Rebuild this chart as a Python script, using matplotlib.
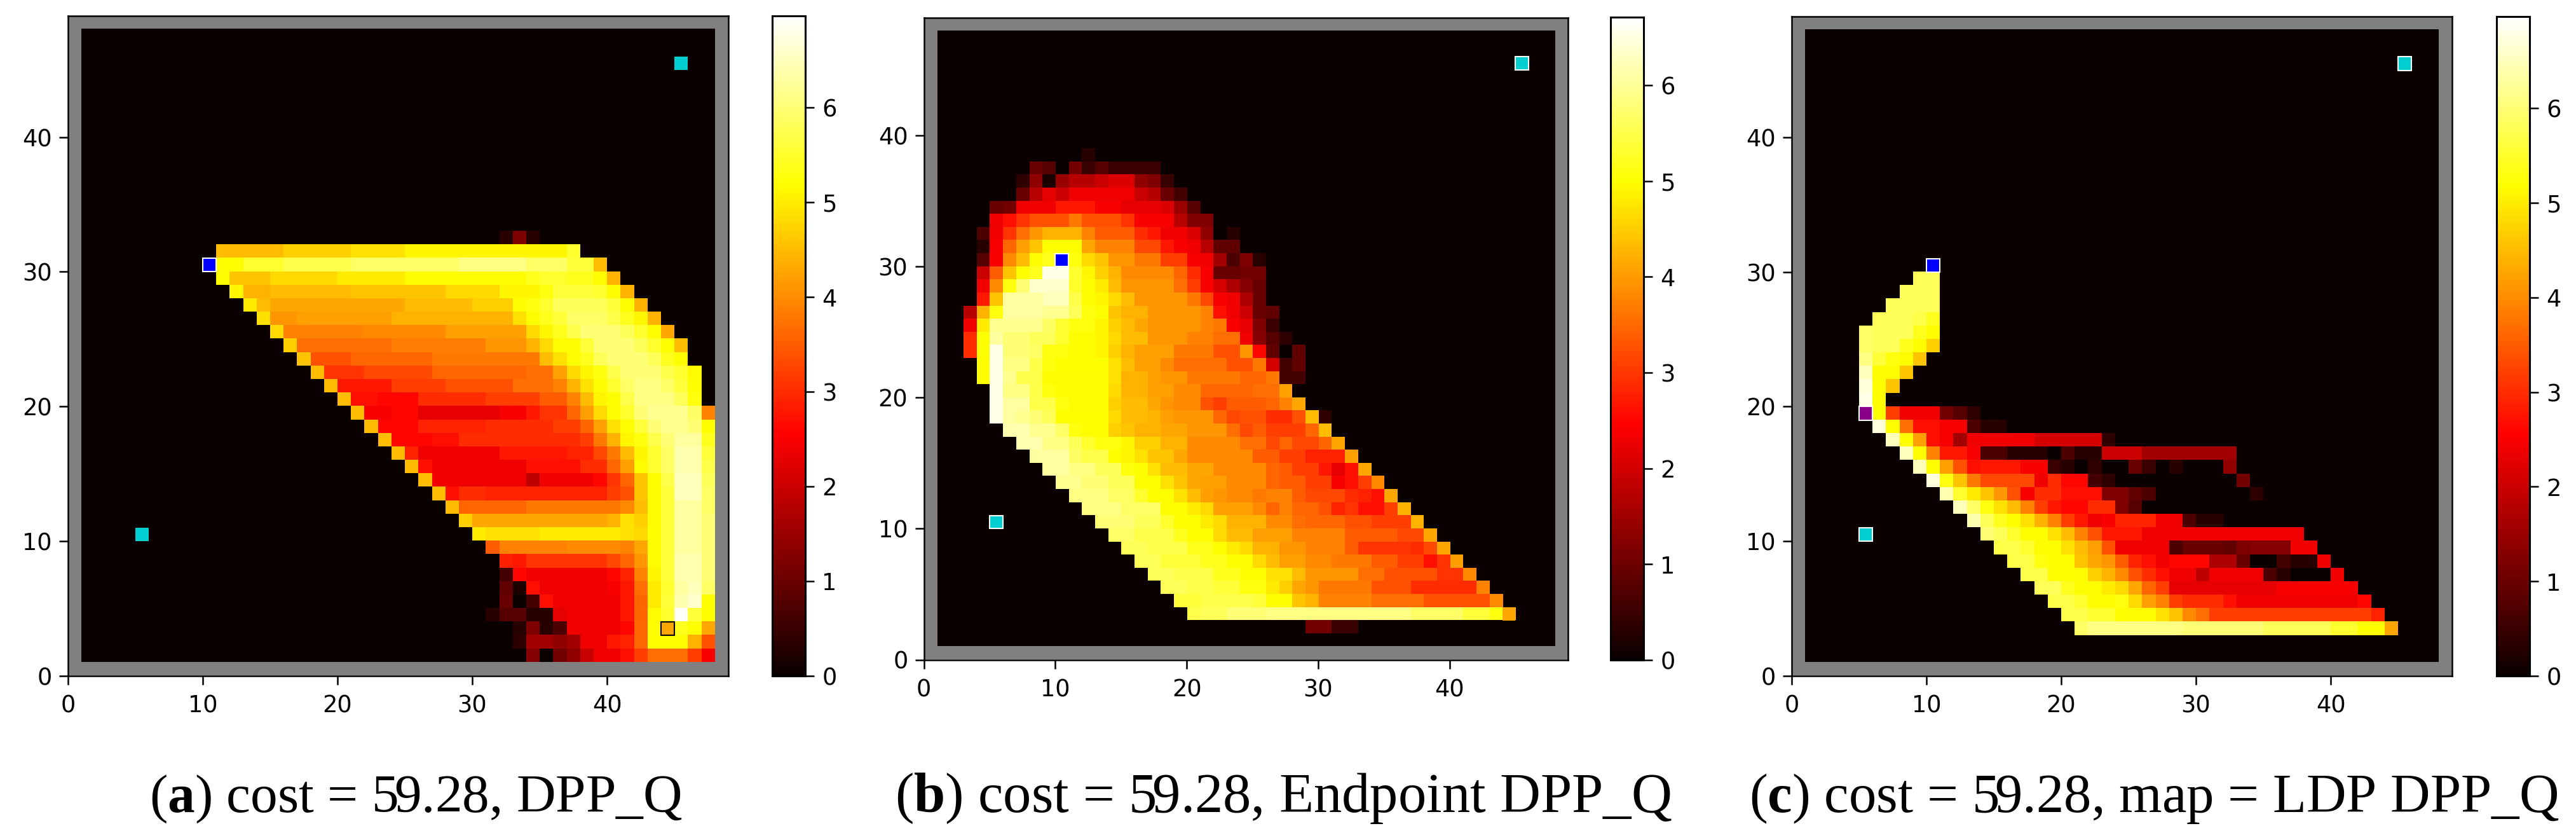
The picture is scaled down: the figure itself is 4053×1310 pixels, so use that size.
import numpy as np
import matplotlib
matplotlib.use("Agg")
import matplotlib.pyplot as plt
from matplotlib.colors import Normalize
from matplotlib.patches import Rectangle

plt.rcParams['mathtext.fontset'] = 'custom'
plt.rcParams['mathtext.bf'] = 'Liberation Serif:bold'
plt.rcParams['mathtext.rm'] = 'Liberation Serif'

W, H = 4053, 1310
GRID = 49

# row -> (first column, [(last column of run, value), ...])
ROWS_A = {
 32: (32, [(32,.3),(33,1.2),(34,.3)]),
 31: (11, [(15,4.5),(20,4.7),(24,4.9),(36,5.1),(37,5.5)]),
 30: (11, [(12,5.2),(15,5.5),(20,5.7),(28,5.9),(33,6.1),(36,5.9),(38,5.6),(39,4.5)]),
 29: (11, [(11,5.2),(14,4.6),(19,4.8),(24,5.0),(33,5.15),(34,5.4),(36,5.5),(38,5.4),(39,5.15),(40,4.4)]),
 28: (12, [(12,5.1),(14,4.4),(20,4.5),(27,4.6),(31,4.8),(34,5.1),(35,5.3),(38,5.6),(39,5.5),(40,5.15),(41,4.4)]),
 27: (13, [(13,5.0),(14,4.5),(24,4.3),(29,4.5),(32,4.7),(33,5.15),(34,5.3),(35,5.5),(39,5.8),(40,5.6),(41,5.2),(42,4.4)]),
 26: (14, [(14,4.9),(16,4.1),(23,4.2),(32,4.4),(33,4.9),(34,5.15),(35,5.4),(36,5.6),(39,5.9),(40,5.7),(41,5.4),(42,5.1),(43,4.4)]),
 25: (15, [(15,4.8),(21,3.9),(27,4.0),(33,4.2),(34,4.8),(35,5.1),(36,5.4),(37,5.7),(40,6.0),(41,5.8),(42,5.5),(43,5.2),(44,4.3)]),
 24: (16, [(16,4.7),(23,3.7),(30,3.85),(33,4.1),(34,4.4),(35,4.8),(37,5.15),(38,5.6),(41,6.0),(42,5.8),(43,5.5),(44,5.2),(45,4.5)]),
 23: (17, [(17,4.6),(20,3.4),(26,3.6),(34,3.8),(35,4.5),(36,4.9),(37,5.15),(38,5.4),(39,5.8),(42,6.0),(43,5.8),(44,5.4),(45,5.2)]),
 22: (18, [(18,4.5),(21,3.1),(26,3.3),(33,3.6),(35,3.7),(36,4.2),(37,4.8),(38,5.1),(39,5.3),(40,5.7),(43,6.0),(44,5.7),(45,5.5),(46,5.15)]),
 21: (19, [(19,4.5),(23,2.8),(27,3.2),(32,3.4),(35,3.7),(36,3.9),(37,4.4),(38,4.9),(39,5.2),(40,5.5),(41,5.9),(43,6.1),(44,5.9),(45,5.6),(46,5.2)]),
 20: (20, [(20,4.5),(22,2.7),(25,2.6),(30,3.0),(34,3.2),(36,3.5),(37,3.9),(38,4.5),(39,5.1),(40,5.2),(41,5.7),(44,6.1),(45,5.8),(46,5.3)]),
 19: (21, [(21,4.5),(23,2.5),(25,2.6),(31,2.3),(33,2.5),(34,2.8),(36,3.1),(37,3.6),(38,4.2),(39,4.8),(40,5.15),(41,5.5),(42,6.0),(45,6.2),(46,5.9),(47,3.9)]),
 18: (22, [(22,4.5),(25,2.6),(30,2.9),(35,3.0),(37,3.2),(38,3.6),(39,4.2),(40,4.9),(41,5.2),(42,5.6),(43,6.0),(45,6.2),(46,6.0),(47,5.2)]),
 17: (23, [(23,4.5),(26,2.6),(28,2.7),(37,3.0),(38,3.2),(39,3.8),(40,4.4),(41,5.1),(42,5.3),(43,5.7),(44,6.0),(46,6.3),(47,5.4)]),
 16: (24, [(24,4.5),(25,2.9),(31,2.4),(36,2.8),(38,2.9),(39,3.3),(40,3.8),(41,4.5),(42,5.1),(43,5.5),(44,5.9),(46,6.4),(47,5.6)]),
 15: (25, [(25,4.5),(26,2.7),(33,2.4),(37,2.7),(39,3.0),(40,3.6),(41,4.2),(42,5.15),(43,5.5),(44,5.9),(46,6.4),(47,5.7)]),
 14: (26, [(26,4.5),(33,2.4),(34,1.9),(38,2.4),(39,2.6),(40,3.1),(41,3.6),(42,4.6),(43,5.2),(44,5.7),(46,6.5),(47,5.8)]),
 13: (27, [(27,4.5),(28,2.7),(30,3.0),(39,2.9),(40,3.2),(41,3.4),(42,4.6),(43,5.15),(44,5.6),(46,6.5),(47,5.9)]),
 12: (28, [(28,4.5),(33,3.6),(40,3.8),(41,4.0),(42,4.5),(43,5.15),(44,5.6),(46,6.3),(47,5.9)]),
 11: (29, [(29,4.7),(39,4.3),(40,4.4),(41,4.9),(42,4.7),(43,5.15),(44,5.6),(46,6.3),(47,6.0)]),
 10: (30, [(30,5.0),(34,4.9),(40,5.0),(41,4.9),(42,4.8),(43,5.2),(44,5.6),(46,6.3),(47,6.0)]),
 9:  (31, [(31,3.5),(36,3.9),(40,4.0),(41,3.9),(42,4.3),(43,5.15),(44,5.6),(46,6.3),(47,6.0)]),
 8:  (32, [(32,2.9),(33,2.8),(39,3.1),(40,3.3),(41,3.6),(42,4.1),(43,5.15),(44,5.6),(46,6.4),(47,6.0)]),
 7:  (32, [(32,.6),(33,2.6),(39,2.4),(40,2.6),(41,2.9),(42,3.9),(43,5.1),(44,5.6),(46,6.4),(47,6.0)]),
 6:  (32, [(32,.9),(33,.2),(34,2.7),(39,2.4),(40,2.5),(41,2.8),(42,3.7),(43,5.0),(44,5.5),(45,6.3),(46,6.5),(47,5.9)]),
 5:  (32, [(32,1.0),(33,0),(34,.6),(35,2.7),(40,2.4),(41,2.8),(42,3.6),(43,5.0),(44,5.6),(45,6.4),(46,6.6),(47,5.2)]),
 4:  (31, [(31,.3),(33,.8),(35,.3),(36,2.3),(40,2.4),(41,2.8),(42,3.6),(43,5.15),(44,5.5),(45,6.9),(46,5.6),(47,5.2)]),
 3:  (33, [(33,.3),(34,1.2),(35,.3),(36,.7),(40,2.4),(41,2.6),(42,3.6),(44,5.2),(45,5.4),(46,5.2),(47,4.3)]),
 2:  (33, [(33,.4),(35,1.6),(36,1.4),(37,1.6),(39,2.4),(40,2.8),(41,2.9),(42,3.6),(45,5.2),(46,4.4),(47,3.4)]),
 1:  (34, [(34,1.3),(35,0),(36,1.1),(37,1.4),(38,2.0),(40,2.4),(41,2.7),(42,3.2),(45,3.7),(46,3.2),(47,2.5)]),
}

ROWS_B = {
 38: (12, [(12,.3)]),
 37: (8, [(8,1.0),(9,.8),(10,0),(11,1.1),(12,.5),(13,.8),(17,.5)]),
 36: (7, [(7,.4),(8,1.4),(9,.2),(10,1.5),(12,1.8),(13,2.0),(15,2.2),(16,1.4),(17,1.2),(18,.5)]),
 35: (7, [(7,1.0),(8,1.8),(9,2.3),(10,2.0),(15,2.4),(16,2.0),(17,1.8),(18,1.0),(19,.6)]),
 34: (5, [(5,1.0),(6,1.1),(9,2.4),(12,2.8),(14,2.5),(17,2.3),(18,2.2),(19,1.5),(20,.8)]),
 33: (5, [(5,2.4),(6,2.7),(7,3.1),(10,3.4),(11,3.8),(14,3.4),(15,3.1),(18,2.5),(19,1.8),(21,1.2)]),
 32: (4, [(4,.7),(5,2.4),(6,3.1),(7,3.7),(8,4.1),(11,4.4),(12,3.9),(15,3.5),(16,3.0),(17,2.8),(19,2.4),(20,2.2),(21,1.4),(22,0),(23,.3)]),
 31: (4, [(4,.3),(5,2.5),(6,3.6),(7,4.2),(8,4.6),(11,5.2),(12,4.3),(15,3.9),(17,3.3),(18,2.8),(19,2.5),(20,2.4),(21,1.8),(23,.9)]),
 30: (4, [(4,.8),(5,2.5),(6,4.0),(7,4.5),(8,5.2),(9,5.4),(11,5.3),(12,4.8),(13,4.6),(15,4.1),(17,3.8),(19,3.2),(20,2.5),(21,2.4),(22,1.6),(23,.7),(24,1.2),(25,.3)]),
 29: (4, [(4,2.0),(5,3.5),(6,4.6),(7,5.2),(8,5.4),(10,6.8),(11,5.5),(12,5.1),(13,4.7),(14,4.4),(18,4.0),(19,3.6),(20,3.0),(21,2.5),(23,1.0),(25,1.1)]),
 28: (4, [(4,2.4),(5,4.0),(6,5.3),(7,6.0),(10,6.6),(11,5.5),(12,5.2),(13,5.0),(14,4.5),(18,4.1),(19,3.7),(20,3.2),(21,2.5),(22,2.1),(23,1.7),(24,1.3),(25,1.0)]),
 27: (4, [(4,2.8),(5,4.6),(8,6.3),(10,6.5),(11,5.7),(12,5.2),(13,5.1),(14,4.8),(15,4.5),(19,4.1),(20,3.8),(21,3.3),(22,2.5),(23,2.4),(24,1.7),(25,1.0)]),
 26: (3, [(3,1.8),(4,4.4),(5,5.3),(8,6.3),(10,6.2),(11,5.8),(12,5.3),(13,5.2),(14,4.6),(16,4.4),(20,4.1),(21,3.9),(22,2.7),(23,2.4),(24,2.0),(25,1.0),(26,.9)]),
 25: (3, [(3,2.4),(4,5.0),(8,6.2),(9,5.9),(10,5.5),(12,5.3),(13,5.1),(14,4.7),(15,4.5),(16,4.3),(20,4.1),(21,3.9),(22,3.8),(23,2.5),(24,2.3),(25,1.2),(26,.5)]),
 24: (3, [(3,3.0),(4,5.2),(5,6.3),(7,6.0),(9,5.8),(10,5.5),(12,5.2),(13,5.1),(14,4.8),(16,4.5),(19,4.1),(21,3.9),(23,3.7),(24,2.4),(25,1.3),(26,.8),(27,.4)]),
 23: (3, [(3,3.0),(4,5.2),(5,6.8),(7,6.0),(8,5.9),(10,5.3),(12,5.2),(13,5.1),(14,4.7),(15,4.4),(18,4.2),(21,3.8),(23,3.4),(24,4.1),(25,2.6),(26,.9),(27,0),(28,.9)]),
 22: (4, [(4,5.2),(5,6.8),(7,6.1),(8,5.7),(9,5.3),(13,5.2),(14,4.9),(15,4.5),(17,4.2),(18,4.0),(22,3.7),(24,3.4),(25,3.8),(26,2.1),(27,.6),(28,.9)]),
 21: (4, [(4,5.2),(5,6.8),(6,6.2),(8,5.7),(13,5.15),(14,4.9),(16,4.4),(17,4.2),(19,4.1),(23,3.8),(25,3.6),(26,3.8),(28,.6)]),
 20: (5, [(5,6.8),(7,6.1),(8,5.7),(9,5.3),(13,5.15),(14,4.8),(16,4.4),(18,4.2),(20,4.0),(24,3.6),(26,3.7),(27,4.2)]),
 19: (5, [(5,6.8),(7,6.3),(9,5.7),(10,5.3),(13,5.15),(14,4.7),(16,4.5),(17,4.3),(18,4.1),(20,4.0),(21,3.4),(22,3.2),(25,3.5),(26,3.6),(27,3.9),(28,4.3)]),
 18: (5, [(5,6.8),(6,6.3),(7,6.2),(8,6.0),(9,5.8),(13,5.2),(14,4.8),(16,4.5),(17,4.4),(18,4.2),(21,4.1),(22,3.6),(23,3.3),(25,3.4),(27,3.0),(28,3.4),(29,4.5),(30,.4)]),
 17: (6, [(7,6.4),(9,6.2),(10,5.9),(11,5.3),(13,5.2),(14,4.7),(15,4.6),(17,4.4),(19,4.3),(22,4.1),(23,3.7),(24,3.3),(25,3.5),(28,3.2),(29,3.6),(30,4.5)]),
 16: (7, [(8,6.4),(10,6.1),(11,5.8),(12,5.5),(14,5.3),(15,5.1),(17,4.7),(19,4.4),(23,4.0),(25,3.7),(26,3.3),(27,3.6),(29,3.3),(30,3.6),(31,4.3)]),
 15: (8, [(10,6.3),(11,5.9),(13,5.7),(14,5.2),(15,5.1),(16,4.9),(18,4.6),(19,4.3),(24,4.0),(26,3.5),(28,3.2),(31,2.9),(32,4.2)]),
 14: (9, [(10,6.3),(12,6.1),(14,5.8),(15,5.3),(16,5.2),(17,4.9),(19,4.5),(21,4.3),(25,4.0),(26,3.6),(27,3.5),(29,3.2),(30,2.8),(31,2.3),(32,2.7),(33,4.3)]),
 13: (10, [(11,6.2),(13,6.0),(15,5.8),(17,5.2),(18,4.9),(19,4.6),(20,4.3),(22,4.2),(25,4.0),(26,3.6),(28,3.5),(30,3.2),(31,2.5),(32,2.7),(33,3.2),(34,4.0)]),
 12: (11, [(13,6.1),(15,5.9),(16,5.5),(18,5.2),(19,4.9),(20,4.5),(21,4.2),(22,4.1),(24,4.0),(25,3.8),(27,3.9),(28,3.5),(31,3.3),(32,3.0),(33,2.9),(34,2.7),(35,4.3)]),
 11: (12, [(14,6.1),(17,5.9),(19,5.2),(20,5.0),(21,4.8),(24,4.2),(25,4.0),(26,3.6),(27,3.9),(29,3.6),(30,3.4),(31,2.9),(32,3.1),(34,2.7),(35,3.2),(36,4.4)]),
 10: (13, [(15,6.0),(17,5.8),(18,5.5),(20,5.2),(21,5.0),(22,4.8),(25,4.4),(27,4.0),(28,3.7),(31,3.6),(33,3.4),(36,3.2),(37,4.4)]),
 9:  (14, [(15,5.9),(18,5.7),(19,5.4),(21,5.2),(22,4.8),(24,4.5),(27,4.2),(31,3.9),(35,3.5),(37,3.3),(38,4.3)]),
 8:  (15, [(16,5.8),(19,5.7),(21,5.4),(22,5.2),(23,5.0),(24,4.8),(26,4.4),(28,4.1),(31,3.9),(32,3.5),(36,3.1),(37,3.0),(38,3.3),(39,4.3)]),
 7:  (16, [(17,5.8),(20,5.6),(22,5.4),(23,5.2),(24,5.15),(25,4.8),(26,4.5),(28,4.2),(30,4.0),(33,3.8),(35,3.5),(37,3.2),(38,2.7),(39,3.1),(40,4.2)]),
 6:  (17, [(18,5.8),(21,5.7),(23,5.4),(25,5.2),(27,4.9),(28,4.5),(32,4.1),(34,3.7),(38,3.4),(40,3.1),(41,4.0)]),
 5:  (18, [(19,5.8),(21,5.7),(23,5.6),(25,5.3),(26,5.0),(27,4.7),(28,4.3),(29,4.1),(33,3.8),(36,3.4),(41,3.0),(42,3.9)]),
 4:  (19, [(20,5.6),(24,5.7),(25,5.6),(27,5.2),(28,4.6),(29,4.4),(33,3.9),(37,3.7),(42,3.4),(43,4.0)]),
 3:  (20, [(20,5.7),(22,5.8),(25,6.0),(36,6.1),(40,5.9),(42,5.6),(43,5.3),(44,4.4)]),
 2:  (29, [(30,1.1),(32,.5)]),
}

ROWS_C = {
 29: (9, [(10,5.8)]),
 28: (8, [(10,5.8)]),
 27: (7, [(10,5.8)]),
 26: (6, [(8,5.8),(9,5.7),(10,5.4)]),
 25: (5, [(5,5.9),(8,5.8),(9,5.4),(10,5.2)]),
 24: (5, [(5,5.9),(7,5.8),(8,5.4),(9,5.2),(10,4.7)]),
 23: (5, [(5,6.1),(6,5.6),(7,5.3),(8,5.15),(9,4.6)]),
 22: (5, [(5,6.5),(6,5.2),(7,5.15),(8,4.6)]),
 21: (5, [(5,6.7),(6,5.2),(7,4.6)]),
 20: (5, [(5,6.8),(6,5.2)]),
 19: (5, [(5,6.8),(6,5.2),(7,3.2),(10,2.4),(11,1.1),(12,.8),(13,.4)]),
 18: (6, [(6,6.7),(7,5.2),(8,3.7),(10,2.7),(12,2.5),(13,.7),(15,.3)]),
 17: (7, [(7,6.5),(8,5.2),(9,4.2),(10,2.7),(11,2.5),(12,1.6),(17,2.4),(22,2.1),(23,.4)]),
 16: (8, [(8,6.5),(9,5.2),(10,3.9),(12,2.8),(13,2.5),(15,.7),(18,.3),(19,0),(20,.7),(22,.3),(25,2.0),(32,1.6)]),
 15: (9, [(9,6.5),(10,5.2),(11,4.2),(12,3.4),(13,2.7),(16,2.8),(18,2.5),(19,.5),(20,.3),(21,0),(22,.4),(24,0),(25,1.0),(26,.5),(27,0),(28,.3),(31,0),(32,1.4)]),
 14: (10, [(10,6.7),(11,5.3),(12,4.6),(13,3.8),(17,3.3),(18,2.4),(19,3.0),(21,2.6),(22,.6),(23,.4),(32,0),(33,1.1)]),
 13: (11, [(11,6.4),(12,5.5),(13,5.0),(14,4.6),(15,4.1),(16,3.4),(17,2.5),(19,3.0),(22,2.7),(24,1.2),(25,.9),(26,.7),(33,0),(34,.4)]),
 12: (12, [(12,6.5),(13,5.9),(14,5.3),(15,4.9),(16,4.5),(17,3.9),(18,3.2),(19,2.8),(21,2.6),(23,3.0),(24,1.2),(25,.8)]),
 11: (13, [(13,6.4),(14,5.8),(15,5.4),(16,5.2),(17,4.9),(18,4.4),(19,3.9),(20,3.2),(21,2.8),(22,2.4),(23,2.5),(26,2.9),(28,2.4),(29,.7),(31,.3)]),
 10: (14, [(14,6.0),(15,5.8),(16,5.5),(18,5.2),(19,4.9),(20,4.5),(21,3.9),(22,3.4),(25,2.8),(37,2.4)]),
 9:  (15, [(16,5.7),(17,5.5),(19,5.2),(20,4.9),(21,4.5),(22,4.2),(23,3.4),(27,2.4),(28,.7),(31,1.0),(32,.9),(33,1.2),(36,1.3),(38,2.4)]),
 8:  (16, [(17,5.7),(18,5.3),(20,5.2),(21,4.6),(22,4.3),(23,4.1),(24,3.5),(25,2.9),(26,2.7),(27,2.4),(30,2.6),(32,1.7),(33,1.0),(35,0),(36,.6),(38,.3),(39,2.4)]),
 7:  (17, [(18,5.7),(20,5.2),(21,5.15),(22,4.7),(23,4.4),(24,4.0),(25,3.4),(26,3.0),(27,2.7),(29,2.4),(30,1.9),(34,2.4),(35,.7),(36,.3),(39,0),(40,2.4)]),
 6:  (18, [(19,5.8),(20,5.4),(22,5.2),(23,5.0),(24,4.8),(25,4.3),(26,3.6),(27,3.2),(35,2.3),(41,2.5)]),
 5:  (19, [(20,5.7),(21,5.5),(23,5.2),(24,5.3),(25,4.8),(26,4.2),(27,3.9),(28,3.2),(31,3.0),(32,2.7),(41,2.4),(42,2.6)]),
 4:  (20, [(21,5.7),(23,5.5),(24,5.2),(26,5.15),(27,4.9),(28,4.6),(29,4.0),(30,3.7),(42,3.2),(43,2.9)]),
 3:  (21, [(21,5.9),(28,6.1),(34,6.0),(39,5.8),(41,5.5),(43,5.2),(44,4.4)]),
}

VMAX = [6.97, 6.71, 6.97]
CBAR_TICKS = [0, 1, 2, 3, 4, 5, 6]
AXIS_TICKS = [0, 10, 20, 30, 40]
CAPTIONS = [r"($\mathbf{a}$) cost = 59.28, DPP_Q",
            r"($\mathbf{b}$) cost = 59.28, Endpoint DPP_Q",
            r"($\mathbf{c}$) cost = 59.28, map = LDP DPP_Q"]

START = (10, 30)
GOAL = (44, 3)
WAYPOINTS = [(45, 45), (5, 10)]
VIA_C = (5, 19)

# pixel boxes: left, right, top, bottom
AX_BOX = [(107, 1146, 25, 1062.5), (1453.5, 2467, 27.5, 1037.5), (2819, 3858, 26, 1062.5)]
CB_BOX = [(1215, 1267, 25, 1062.5), (2534, 2586, 27, 1038), (3928, 3980, 26, 1063)]
CAP_X = [235, 1408, 2752]
CAP_SIZE = [61.5, 63.8, 62.5]
CAP_BASE = 1277


def build(rows):
    g = np.zeros((GRID, GRID))
    for r, (c, runs) in rows.items():
        for end, v in runs:
            g[r, c:end + 1] = v
            c = end + 1
    g[0, :] = g[-1, :] = np.nan
    g[:, 0] = g[:, -1] = np.nan
    return g


def px_axes(fig, box):
    l, r, t, b = box
    return fig.add_axes([l / W, 1 - b / H, (r - l) / W, (b - t) / H])


cmap = plt.get_cmap('hot').copy()
cmap.set_bad('#808080')

fig = plt.figure(figsize=(W / 100, H / 100), dpi=100, facecolor='white')
TICK = dict(labelsize=26.5, length=10, width=1.8)

grids = [build(ROWS_A), build(ROWS_B) * (6.71 / 6.97), build(ROWS_C)]
for i, g in enumerate(grids):
    ax = px_axes(fig, AX_BOX[i])
    im = ax.imshow(g, origin='lower', aspect='auto', cmap=cmap,
                   norm=Normalize(0, VMAX[i]), extent=(0, GRID, 0, GRID),
                   interpolation='nearest')
    ax.set_xticks(AXIS_TICKS)
    ax.set_yticks(AXIS_TICKS)
    ax.tick_params(axis='x', pad=11, **TICK)
    ax.tick_params(axis='y', pad=8, **TICK)
    for s in ax.spines.values():
        s.set_linewidth(1.8)

    edge = 'white' if i else 'none'
    for p in WAYPOINTS:
        ax.add_patch(Rectangle(p, 1, 1, fc='#00CED1', ec=edge, lw=1.5))
    ax.add_patch(Rectangle(START, 1, 1, fc='#0000FF', ec='white', lw=1.5))
    ax.add_patch(Rectangle(GOAL, 1, 1, fc='#FFA500', ec='black' if i == 0 else 'none', lw=1.5))
    if i == 2:
        ax.add_patch(Rectangle(VIA_C, 1, 1, fc='#8B008B', ec='white', lw=1.5))

    cax = px_axes(fig, CB_BOX[i])
    cb = fig.colorbar(im, cax=cax, ticks=CBAR_TICKS)
    cb.ax.tick_params(pad=9, **TICK)
    cb.outline.set_linewidth(2.2)

    fig.text(CAP_X[i] / W, 1 - CAP_BASE / H, CAPTIONS[i], ha='left', va='baseline',
             family='Liberation Serif', fontsize=CAP_SIZE[i], color='black')

fig.savefig('out.png', dpi=100, facecolor='white')
